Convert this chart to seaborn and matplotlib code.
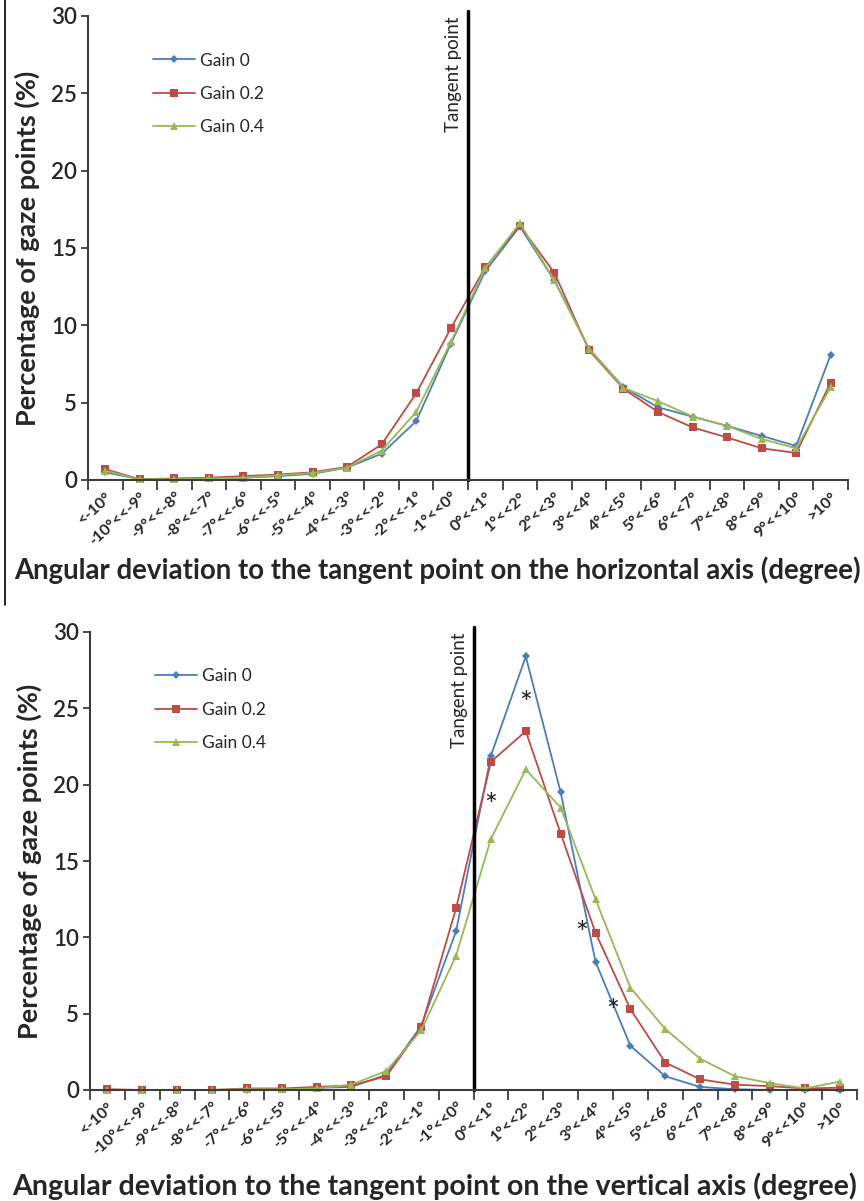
import numpy as np
import pandas as pd
import seaborn as sns
import matplotlib
matplotlib.use("Agg")
import matplotlib.pyplot as plt
from matplotlib.lines import Line2D

categories = ["<-10°", "-10°<<-9°", "-9°<<-8°", "-8°<<-7°", "-7°<<-6°", "-6°<<-5°",
              "-5°<<-4°", "-4°<<-3°", "-3°<<-2°", "-2°<<-1°", "-1°<<0°", "0°<<1°",
              "1°<<2°", "2°<<3°", "3°<<4°", "4°<<5°", "5°<<6°", "6°<<7°", "7°<<8°",
              "8°<<9°", "9°<<10°", ">10°"]
series_names = ["Gain 0", "Gain 0.2", "Gain 0.4"]

# horizontal axis (top panel)
horiz_gain0 = [0.5, 0.05, 0.05, 0.1, 0.15, 0.25, 0.4, 0.8, 1.7, 3.8, 8.8, 13.5,
               16.4, 12.9, 8.5, 6.0, 4.7, 4.1, 3.5, 2.85, 2.2, 8.1]
horiz_gain02 = [0.7, 0.05, 0.1, 0.15, 0.25, 0.35, 0.5, 0.85, 2.3, 5.6, 9.8, 13.75,
                16.45, 13.4, 8.4, 5.9, 4.4, 3.4, 2.75, 2.05, 1.75, 6.3]
horiz_gain04 = [0.6, 0.05, 0.05, 0.1, 0.15, 0.3, 0.45, 0.8, 1.9, 4.4, 8.9, 13.7,
                16.6, 12.9, 8.5, 5.95, 5.1, 4.1, 3.5, 2.65, 2.05, 6.0]

# vertical axis (bottom panel)
vert_gain0 = [0.0, 0.0, 0.0, 0.0, 0.0, 0.05, 0.15, 0.2, 1.0, 4.2, 10.4, 21.9,
              28.4, 19.5, 8.4, 2.9, 0.9, 0.2, 0.05, 0.0, 0.0, 0.0]
vert_gain02 = [0.05, 0.0, 0.0, 0.0, 0.1, 0.1, 0.2, 0.3, 0.9, 4.1, 11.9, 21.5,
               23.5, 16.8, 10.3, 5.3, 1.8, 0.7, 0.35, 0.25, 0.1, 0.15]
vert_gain04 = [0.0, 0.0, 0.0, 0.0, 0.05, 0.05, 0.1, 0.35, 1.25, 3.9, 8.8, 16.45,
               21.0, 18.5, 12.5, 6.7, 4.0, 2.05, 0.9, 0.45, 0.1, 0.55]

# significance stars on the bottom panel (x position, y position)
star_x = [12.0, 11.0, 13.6, 14.5]
star_y = [25.3, 18.6, 10.2, 5.1]

colors = ["#4A7EBB", "#BE4B48", "#98B954"]
marker_list = ["D", "s", "^"]
marker_sizes = [4, 6, 6]

sns.set_style("ticks")
plt.rcParams["font.family"] = ["Lato", "DejaVu Sans"]
FONT = ["Lato", "DejaVu Sans"]


def make_df(a, b, c):
    rows = []
    for name, vals in zip(series_names, [a, b, c]):
        for i, v in enumerate(vals):
            rows.append({"pos": i, "value": v, "series": name})
    return pd.DataFrame(rows)


def draw_panel(ax, df, legend_y):
    sns.lineplot(data=df, x="pos", y="value", hue="series", style="series",
                 palette=colors, markers=marker_list, dashes=False,
                 linewidth=1.3, markeredgewidth=0, ax=ax, legend=False)
    for line, ms in zip(ax.lines, marker_sizes):
        line.set_markersize(ms)
        line.set_clip_on(False)

    ax.set_xlim(-0.5, len(categories) - 0.5)
    ax.set_ylim(0, 30)
    ax.set_yticks(range(0, 31, 5))
    ax.set_yticklabels([str(v) for v in range(0, 31, 5)], fontsize=16,
                       fontweight="semibold")

    # ticks between categories, labels at centres
    ax.set_xticks(np.arange(-0.5, len(categories), 1.0))
    ax.set_xticklabels([])
    ax.set_xticks(np.arange(len(categories)), minor=True)
    ax.set_xticklabels(categories, minor=True, rotation=42, ha="right",
                       rotation_mode="anchor", fontsize=11.5, fontweight="bold")
    ax.tick_params(axis="x", which="major", length=7, width=1.3, color="#3c3c3c")
    ax.tick_params(axis="x", which="minor", length=0, pad=7)
    ax.tick_params(axis="y", length=5, width=1.3, color="#3c3c3c", pad=3)

    sns.despine(ax=ax)
    for sp in ["left", "bottom"]:
        ax.spines[sp].set_color("#3c3c3c")
        ax.spines[sp].set_linewidth(1.5)

    ax.axvline(10.5, color="black", linewidth=2.5, ymax=1.01, clip_on=False)
    ax.annotate("Tangent point", xy=(10.5, 30), xytext=(-4, 0),
                textcoords="offset points", rotation=90, ha="right", va="top",
                fontsize=13.5, family=FONT)

    ax.set_xlabel("")
    ax.set_ylabel("Percentage of gaze points (%)", fontsize=19.5, fontweight="bold",
                  labelpad=8)

    handles = [Line2D([], [], color=c, marker=m, markersize=ms, linewidth=1.3,
                      markeredgewidth=0)
               for c, m, ms in zip(colors, marker_list, marker_sizes)]
    ax.legend(handles, series_names, loc="upper left",
              bbox_to_anchor=(0.065, legend_y), frameon=False, fontsize=12.5,
              handlelength=2.4, handletextpad=0.3, labelspacing=1.0)


fig = plt.figure(figsize=(8.64, 12.01), dpi=100)
ax1 = fig.add_axes([88 / 864, 1 - 480 / 1201, 760 / 864, 464 / 1201])
ax2 = fig.add_axes([90 / 864, 1 - 1090 / 1201, 767 / 864, 458 / 1201])

draw_panel(ax1, make_df(horiz_gain0, horiz_gain02, horiz_gain04), 0.955)
draw_panel(ax2, make_df(vert_gain0, vert_gain02, vert_gain04), 0.955)

# axis titles placed on the figure, as in the source (not centred on the axes)
fig.text(437 / 864, 1 - 570 / 1201,
         "Angular deviation to the tangent point on the horizontal axis (degree)",
         ha="center", va="center", fontsize=19.9, fontweight="bold")
fig.text(435 / 864, 1 - 1186 / 1201,
         "Angular deviation to the tangent point on the vertical axis (degree)",
         ha="center", va="center", fontsize=20.6, fontweight="bold")

for sx, sy in zip(star_x, star_y):
    ax2.text(sx, sy, "*", ha="center", va="center", fontsize=22, color="#222222")

# thin border line on the left of the top panel
fig.add_artist(Line2D([5 / 864, 5 / 864], [1, 1 - 605 / 1201], color="black",
                      linewidth=1.2, transform=fig.transFigure))

fig.savefig("out.png", dpi=100)
